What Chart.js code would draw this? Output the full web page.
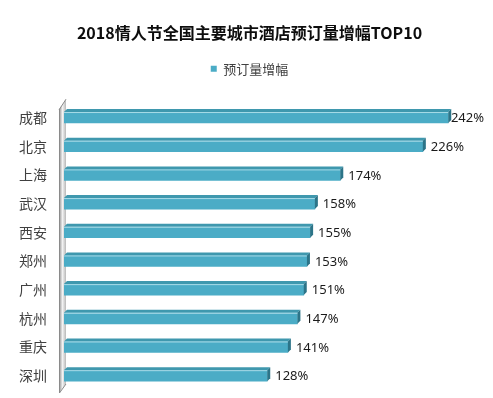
<!DOCTYPE html>
<html>
<head>
<meta charset="utf-8">
<script src="https://cdn.jsdelivr.net/npm/chart.js@4/dist/chart.umd.min.js"></script>
<style>
html, body { margin: 0; padding: 0; background: #fff; }
#wrap { width: 493px; height: 398px; }
</style>
</head>
<body>
<div id="wrap"><canvas id="chart"></canvas></div>
<script>
// Data
const cities = ['成都', '北京', '上海', '武汉', '西安', '郑州', '广州', '杭州', '重庆', '深圳'];
const growth = [242, 226, 174, 158, 155, 153, 151, 147, 141, 128];
const seriesName = '预订量增幅';
const chartTitle = '2018情人节全国主要城市酒店预订量增幅TOP10';

const cjkFont = '"Noto Sans CJK SC", "Microsoft YaHei", sans-serif';
const numFont = '"Noto Sans", "Open Sans", sans-serif';
const barColor = '#4BACC6';
const depth = 3;

// Leave some room between the legend and the plot
const legendSpacer = {
    id: 'legendSpacer',
    beforeLayout(chart) {
        const legend = chart.legend;
        if (!legend || legend._spaced) return;
        const fit = legend.fit;
        legend.fit = function () {
            fit.call(legend);
            legend.height += 18;
        };
        legend._spaced = true;
    }
};

function poly(ctx, pts) {
    ctx.beginPath();
    ctx.moveTo(pts[0][0], pts[0][1]);
    for (let i = 1; i < pts.length; i++) ctx.lineTo(pts[i][0], pts[i][1]);
    ctx.closePath();
    ctx.fill();
}

// Excel style 3D look: side wall, bar tops and ends, value labels
const bar3d = {
    id: 'bar3d',
    beforeDatasetsDraw(chart) {
        const { ctx, chartArea: a } = chart;
        const x0 = a.left - 5, x1 = a.left + 2;
        ctx.save();
        const g = ctx.createLinearGradient(x0, 0, x1, 0);
        g.addColorStop(0, '#8c8c8c');
        g.addColorStop(0.5, '#f2f2f2');
        g.addColorStop(1, '#b8b8b8');
        ctx.fillStyle = g;
        poly(ctx, [[x0, a.top + 6], [x1, a.top - 4], [x1, a.bottom - 6], [x0, a.bottom + 3]]);
        ctx.strokeStyle = '#8a8a8a';
        ctx.lineWidth = 1;
        ctx.beginPath();
        ctx.moveTo(x0 + 0.5, a.bottom + 3);
        ctx.lineTo(x0 + 0.5, a.top + 6);
        ctx.lineTo(x1, a.top - 4);
        ctx.moveTo(x0 + 0.5, a.bottom + 3);
        ctx.lineTo(x1, a.bottom - 6);
        ctx.stroke();
        ctx.restore();
    },
    afterDatasetsDraw(chart) {
        const { ctx } = chart;
        const meta = chart.getDatasetMeta(0);
        ctx.save();
        meta.data.forEach((bar, i) => {
            const { x, y, base, height } = bar.getProps(['x', 'y', 'base', 'height'], true);
            const top = y - height / 2, bottom = y + height / 2;
            ctx.fillStyle = '#3f98ae';
            poly(ctx, [[base, top], [base + depth, top - depth], [x + depth, top - depth], [x, top]]);
            ctx.fillStyle = '#2c7488';
            poly(ctx, [[x, top], [x + depth, top - depth], [x + depth, bottom - depth], [x, bottom]]);
            ctx.strokeStyle = '#a9dbe8';
            ctx.lineWidth = 1;
            ctx.beginPath();
            ctx.moveTo(base, top + 0.5);
            ctx.lineTo(x, top + 0.5);
            ctx.stroke();

            const label = growth[i] + '%';
            ctx.font = '13px ' + numFont;
            ctx.fillStyle = '#1a1a1a';
            ctx.textBaseline = 'middle';
            ctx.textAlign = 'left';
            const w = ctx.measureText(label).width;
            const lx = Math.min(x + 8, chart.width - 9 - w);
            ctx.fillText(label, lx, y + 1);
        });
        ctx.restore();
    }
};

new Chart(document.getElementById('chart'), {
    type: 'bar',
    data: {
        labels: cities,
        datasets: [{
            label: seriesName,
            data: growth,
            backgroundColor: barColor,
            borderWidth: 0,
            barThickness: 11
        }]
    },
    options: {
        indexAxis: 'y',
        responsive: true,
        maintainAspectRatio: false,
        animation: false,
        layout: {
            padding: { left: 19, right: 13, top: 0, bottom: 8 }
        },
        scales: {
            x: {
                display: false,
                min: 0,
                max: 262
            },
            y: {
                grid: { display: false, drawTicks: false },
                border: { display: false },
                ticks: {
                    padding: 17,
                    color: '#404040',
                    font: { family: cjkFont, size: 14 }
                },
                afterFit(scale) {
                    // tick padding is counted on both sides; keep it only once
                    scale.width -= scale.options.ticks.padding;
                    scale.paddingTop = 0;
                    scale.paddingBottom = 0;
                }
            }
        },
        plugins: {
            title: {
                display: true,
                text: chartTitle,
                color: '#0d0d0d',
                font: { family: cjkFont, size: 16, weight: 'bold' },
                padding: { top: 23, bottom: 10 }
            },
            legend: {
                display: true,
                labels: {
                    boxWidth: 6,
                    boxHeight: 6,
                    padding: 10,
                    color: '#404040',
                    font: { family: cjkFont, size: 13 }
                }
            },
            tooltip: { enabled: false }
        }
    },
    plugins: [legendSpacer, bar3d]
});
</script>
</body>
</html>
